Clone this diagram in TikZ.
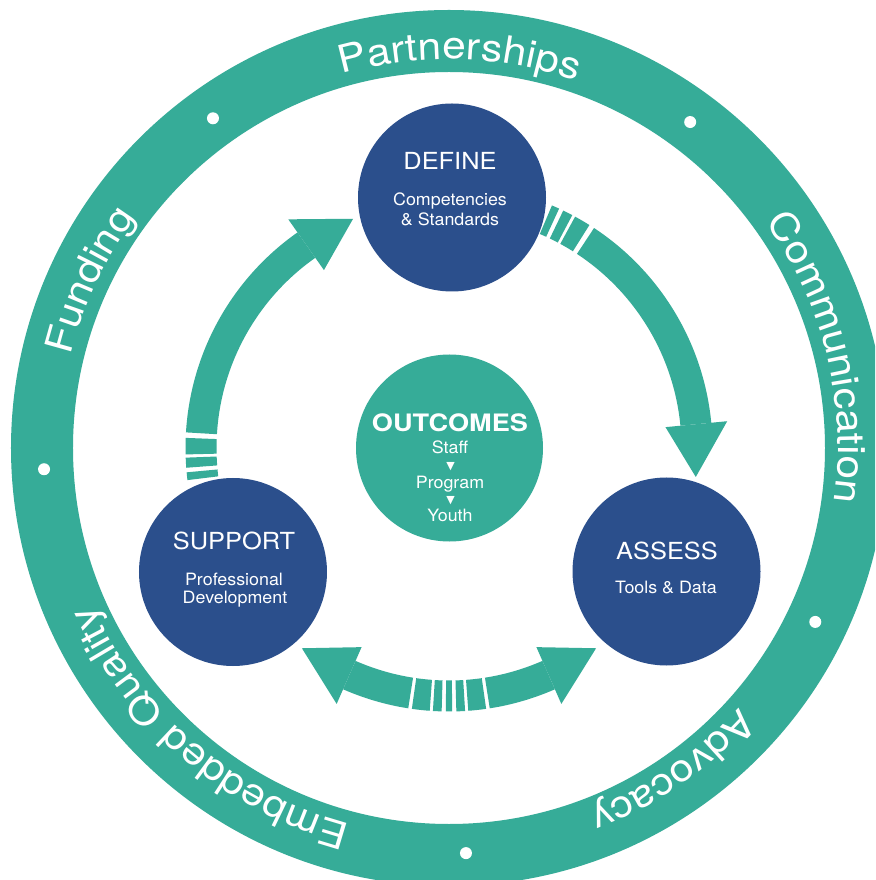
\documentclass[tikz,border=0pt]{standalone}
\usepackage{fontspec}
\setmainfont{TeX Gyre Heros}
\newfontfamily\ringfont[FakeStretch=1.12]{TeX Gyre Heros}
\newfontfamily\titlefont[FakeStretch=1.08]{TeX Gyre Heros}
\newfontfamily\subfont[FakeStretch=1.05]{TeX Gyre Heros}
\newfontfamily\outfont[FakeStretch=1.13]{TeX Gyre Heros}
\newfontfamily\symfont{DejaVu Sans}
\usetikzlibrary{decorations.text}

\definecolor{cteal}{RGB}{54,172,152}
\definecolor{cblue}{RGB}{43,79,140}

% filled piece of the inner band between two angles
\newcommand\bandseg[2]{%
  \fill[cteal] (#1:232.5) arc[start angle=#1,end angle=#2,radius=232.5]
    -- (#2:263.5) arc[start angle=#2,end angle=#1,radius=263.5] -- cycle;}
% arrow head: radial base at #1, tip at #2
\newcommand\bandhead[2]{%
  \fill[cteal] (#1:217.5) -- (#2:248.5) -- (#1:279.5) -- cycle;}
% text set clockwise along the ring, centred on angle #1
\newcommand\ringtext[3]{%
  \path[decorate, decoration={text along path, text color=white,
      text align=center,
      text={|\ringfont\fontsize{38}{38}\selectfont|#3}}]
    ({#1+#2}:389) arc[start angle={#1+#2}, end angle={#1-#2}, radius=389];}

\tikzset{
  blob/.style={circle, fill=cblue, inner sep=0pt, minimum size=188pt},
  hub/.style={circle, fill=cteal, inner sep=0pt, minimum size=187pt},
  title/.style={text=white, anchor=base, inner sep=0pt,
    font=\titlefont\fontsize{23.5}{23.5}\selectfont},
  sub/.style={text=white, anchor=base, inner sep=0pt,
    font=\subfont\fontsize{17}{17}\selectfont},
  tri/.style={text=white, inner sep=0pt,
    font=\symfont\fontsize{11}{11}\selectfont},
}

\begin{document}
\begin{tikzpicture}[x=1pt,y=1pt]
\clip (-449,-432) rectangle (426,448);
\fill[white] (-449,-432) rectangle (426,448);

% outer ring with its separator dots
\draw[cteal, line width=62pt] (0,0) circle[radius=407];
\foreach \a in {125.6,53.5,183,-25.4,-87.6}
  \fill[white] (\a:405.5) circle[radius=6];

\ringtext{88.4}{40}{Partnerships}
\ringtext{13.75}{40}{Communication}
\ringtext{-55.3}{40}{Advocacy}
\ringtext{229.5}{45}{Embedded Quality}
\ringtext{155}{40}{Funding}

% SUPPORT -> DEFINE
\bandseg{185.3}{187.0}
\bandseg{182.1}{184.3}
\bandseg{177.8}{181.4}
\bandseg{125.1}{176.6}
\bandhead{125.1}{112.7}

% DEFINE -> ASSESS
\bandseg{65.3}{67.0}
\bandseg{62.1}{64.3}
\bandseg{57.8}{61.4}
\bandseg{5.5}{56.6}
\bandhead{5.5}{-6.7}

% ASSESS <-> SUPPORT
\bandseg{246.3}{261.1}
\bandseg{261.9}{265.8}
\bandseg{266.5}{268.4}
\bandseg{269.3}{270.7}
\bandseg{271.6}{273.5}
\bandseg{274.2}{278.1}
\bandseg{278.9}{293.7}
\bandhead{246.3}{233.7}
\bandhead{293.7}{306.3}

% stage circles
\node[blob] (define) at (3,250.5) {};
\node[blob] (support) at (-216,-124) {};
\node[blob] (assess) at (217.5,-123.5) {};
\node[hub] (outcomes) at (0.5,0) {};

\node[title] (defineT) at (1,278) {DEFINE};
\node[sub] (defineA) at (1,242.3) {Competencies};
\node[sub] (defineB) at (1,222.7) {\& Standards};

\node[title] (supportT) at (-215,-101.3) {SUPPORT};
\node[sub] (supportA) at (-215,-137) {Professional};
\node[sub] (supportB) at (-214,-155) {Development};

\node[title] (assessT) at (218,-111.3) {ASSESS};
\node[sub] (assessA) at (217,-145.3) {Tools \& Data};

\node[text=white, anchor=base, inner sep=0pt,
  font=\outfont\bfseries\fontsize{24}{24}\selectfont] (outT) at (1,16.3) {OUTCOMES};
\node[sub] (outA) at (1,-5.3) {Staff};
\node[tri] (arrA) at (1.5,-18.3) {▼};
\node[sub] (outB) at (1,-40.3) {Program};
\node[tri] (arrB) at (1.5,-52.3) {▼};
\node[sub] (outC) at (1,-73.7) {Youth};
\end{tikzpicture}
\end{document}
